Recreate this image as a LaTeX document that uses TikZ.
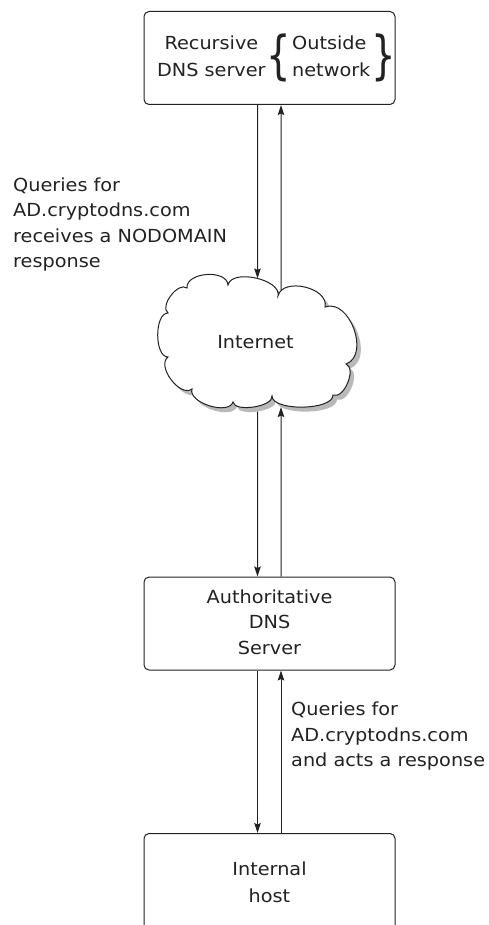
\documentclass[tikz,border=0pt]{standalone}
\usepackage{fontspec}
\setmainfont{DejaVu Sans}[FakeStretch=1.07]
\usetikzlibrary{arrows.meta,intersections}

\definecolor{ink}{HTML}{222222}

% tall curly brace set from the text font
\newcommand\tallbrace[1]{$\vcenter{\hbox{\scalebox{2}[2.9]{#1}}}$}

\tikzset{
  box/.style={draw=ink, line width=1pt, rounded corners=5pt, fill=white,
              minimum width=251pt, inner sep=0pt, text=ink},
  note/.style={inner sep=0pt, anchor=north west, align=left, text=ink,
               font=\fontsize{18}{25.5}\selectfont},
  arr/.style={draw=ink, line width=1pt,
              -{Stealth[length=10pt,width=6.5pt,inset=1.5pt]}},
  puff/.style={bend left=90, looseness=#1},
  puff/.default=1
}

\begin{document}
\begin{tikzpicture}[x=1pt,y=1pt]
\useasboundingbox (0,0) rectangle (488,-925);
\clip (0,0) rectangle (488,-925);

% outline of the cloud, one puff between each pair of dips
\def\cloudpath{(168,-313) to[puff=0.9] (187,-288) to[puff] (228,-285)
  to[puff=0.85] (278,-296) to[puff=1.05] (325,-307) to[puff=1.1] (346,-364)
  to[puff=0.9] (333,-395) to[puff=0.65] (272,-396) to[puff=0.7] (233,-402)
  to[puff=0.85] (192,-389) to[puff=0.95] (168,-357) to[puff=0.8] (168,-313) -- cycle}

% boxes
\node[box, minimum height=93pt] (rec) at (269.5,-58)
  {\fontsize{18}{27}\selectfont
   \hspace*{7pt}\begin{tabular}{@{}c@{}}Recursive\\DNS server\end{tabular}%
   \hspace{1pt}\tallbrace{\{}\hspace{1pt}%
   \begin{tabular}{@{}l@{}}Outside\\network\end{tabular}%
   \hspace{1pt}\tallbrace{\}}\hspace*{-7pt}};
\node[box, minimum height=93pt] (auth) at (269.5,-623.5)
  {\fontsize{18}{25.5}\selectfont
   \begin{tabular}{@{}c@{}}Authoritative\\DNS\\Server\end{tabular}};
\node[box, minimum height=100pt] (host) at (269.5,-883.5)
  {\fontsize{18}{27}\selectfont
   \begin{tabular}{@{}c@{}}Internal\\host\end{tabular}};

% cloud with its drop shadow
\fill[gray!55, name path=cloudshade, shift={(4,-4.5)}] \cloudpath;
\draw[ink, line width=1pt, fill=white, name path=cloudedge] \cloudpath;
\node[text=ink, font=\fontsize{18}{22}\selectfont, anchor=base] (inet)
  at (255.5,-348) {Internet};

% vertical lanes of the connectors
\coordinate (xl) at (257.5,0);
\coordinate (xr) at (281,0);
\path[name path=laneL] (257.5,-150) -- (257.5,-500);
\path[name path=laneR] (281,-150) -- (281,-500);
\path[name intersections={of=laneL and cloudedge, sort by=laneL, by={cTL,cBLx}}];
\path[name intersections={of=laneR and cloudedge, sort by=laneR, by={cTR,cBRx}}];
\path[name intersections={of=laneL and cloudshade, sort by=laneL, by={sTL,cBL}}];
\path[name intersections={of=laneR and cloudshade, sort by=laneR, by={sTR,cBR}}];

% connectors
\draw[arr] (rec.south -| xl) -- (cTL);
\draw[arr] (cTR) -- (rec.south -| xr);
\draw[arr] (cBL) -- (auth.north -| xl);
\draw[arr] (auth.north -| xr) -- (cBR);
\draw[arr] (auth.south -| xl) -- (host.north -| xl);
\draw[arr] (host.north -| xr) -- (auth.south -| xr);

% annotations
\node[note] (qout) at (13,-177.5)
  {Queries for\\AD.cryptodns.com\\receives a NODOMAIN\\response};
\node[note] (qin) at (291,-702)
  {Queries for\\AD.cryptodns.com\\and acts a response};
\end{tikzpicture}
\end{document}
